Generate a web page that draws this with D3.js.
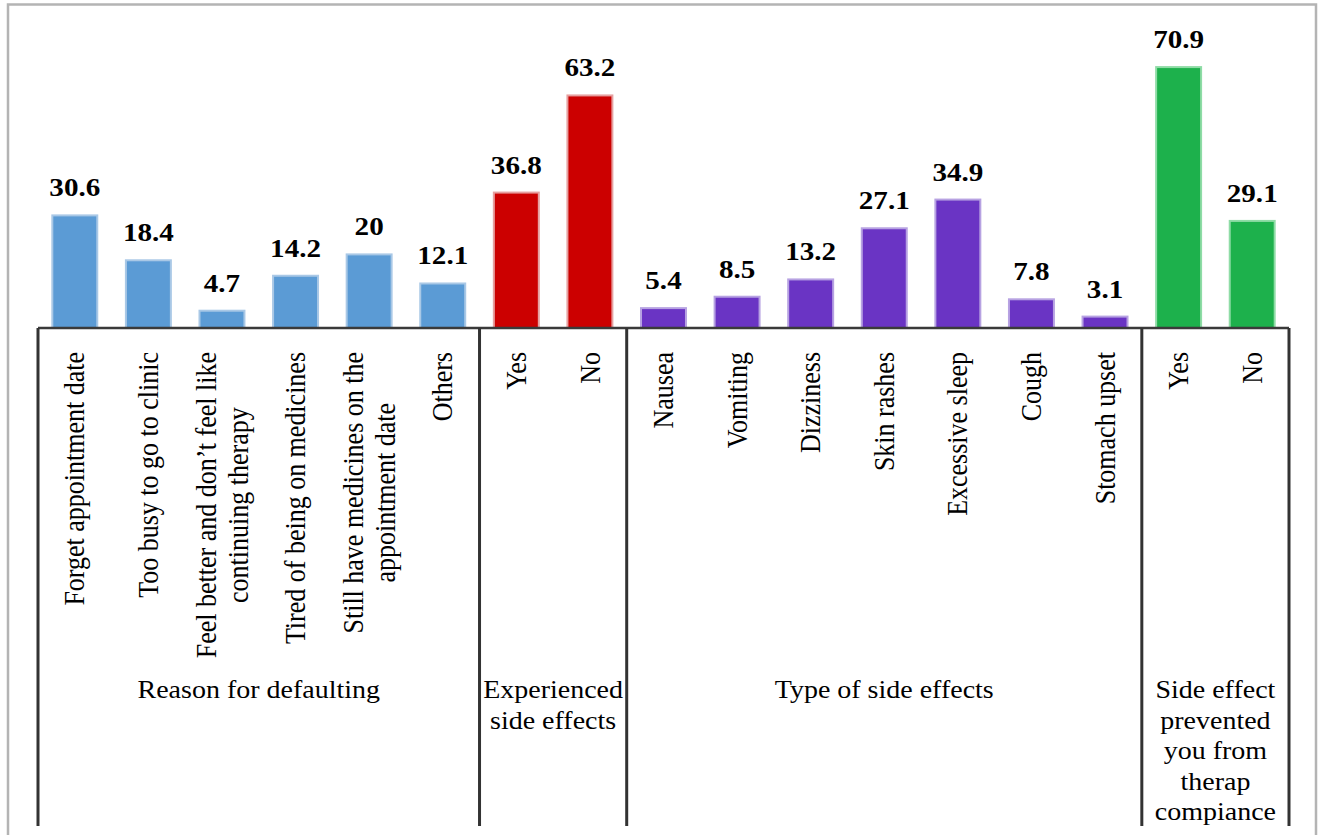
<!DOCTYPE html>
<html>
<head>
<meta charset="utf-8">
<script src="https://cdn.jsdelivr.net/npm/d3@7/dist/d3.min.js"></script>
<style>
  html, body { margin: 0; padding: 0; background: #fff; }
  svg { display: block; }
  text { font-family: "Liberation Serif", "Times New Roman", serif; fill: #000; }
</style>
</head>
<body>
<svg id="chart" width="1322" height="835" font-family="'Liberation Serif', 'Times New Roman', serif"></svg>
<script>
// ---------------- data ----------------
const groups = [
  ["Reason for defaulting"],
  ["Experienced", "side effects"],
  ["Type of side effects"],
  ["Side effect", "prevented", "you from", "therap", "compiance"]
];
const groupSizes = [6, 2, 7, 2];
const groupColors = ["#5b9bd5", "#cc0000", "#6a34c4", "#1db14c"];
const groupStrokes = ["#a9c8e6", "#e6a0a0", "#b7a2e2", "#8fdca6"];

const categories = [
  ["Forget appointment date"],
  ["Too busy to go to clinic"],
  ["Feel better and don\u2019t feel like", "continuing therapy"],
  ["Tired of being on medicines"],
  ["Still have medicines on the", "appointment date"],
  ["Others"],
  ["Yes"],
  ["No"],
  ["Nausea"],
  ["Vomiting"],
  ["Dizziness"],
  ["Skin rashes"],
  ["Excessive sleep"],
  ["Cough"],
  ["Stomach upset"],
  ["Yes"],
  ["No"]
];
const values = [30.6, 18.4, 4.7, 14.2, 20, 12.1, 36.8, 63.2, 5.4, 8.5, 13.2, 27.1, 34.9, 7.8, 3.1, 70.9, 29.1];
const valueLabels = ["30.6", "18.4", "4.7", "14.2", "20", "12.1", "36.8", "63.2", "5.4", "8.5", "13.2", "27.1", "34.9", "7.8", "3.1", "70.9", "29.1"];

// ---------------- layout ----------------
const svg = d3.select("#chart");
const SX = 1.12;               // horizontal stretch of the original picture
const left = 38, right = 1289, base = 328, bottom = 826;
const fontSize = 25, catFont = 26, valueFont = 26;

const groupOf = [];
groupSizes.forEach((n, g) => { for (let i = 0; i < n; i++) groupOf.push(g); });

const pi = 0.389;
const x = d3.scaleBand()
  .domain(d3.range(categories.length))
  .range([left, right])
  .paddingInner(pi)
  .paddingOuter(pi / 2);
const y = d3.scaleLinear().domain([0, 80]).range([base, base - 80 * 3.68]);
const step = x.step();
const cellLeft = i => x(i) - step * pi / 2;

// outer frame (light gray)
svg.append("path")
  .attr("d", `M8,835 L8,4.5 L1316,4.5 L1316,835`)
  .attr("stroke", "#b4b4b4").attr("stroke-width", 2.5).attr("fill", "none");

// bars
svg.append("g").selectAll("rect")
  .data(values)
  .join("rect")
  .attr("x", (d, i) => x(i))
  .attr("width", x.bandwidth())
  .attr("y", d => y(d))
  .attr("height", d => y(0) - y(d))
  .attr("fill", (d, i) => groupColors[groupOf[i]])
  .attr("stroke", (d, i) => groupStrokes[groupOf[i]])
  .attr("stroke-width", 2);

// value labels
svg.append("g").selectAll("text")
  .data(values)
  .join("text")
  .attr("transform", (d, i) => `translate(${x(i) + x.bandwidth() / 2},${y(d) - 19}) scale(${SX},1)`)
  .attr("text-anchor", "middle")
  .attr("font-weight", "bold")
  .attr("font-size", valueFont)
  .text((d, i) => valueLabels[i]);

// axis line
svg.append("line")
  .attr("x1", left).attr("x2", right)
  .attr("y1", base).attr("y2", base)
  .attr("stroke", "#3a3a3a").attr("stroke-width", 2.5);

// group separators
const sepIdx = [0];
groupSizes.reduce((acc, n) => { sepIdx.push(acc + n); return acc + n; }, 0);
svg.append("g").selectAll("line")
  .data(sepIdx)
  .join("line")
  .attr("x1", d => d < categories.length ? cellLeft(d) : right)
  .attr("x2", d => d < categories.length ? cellLeft(d) : right)
  .attr("y1", base).attr("y2", bottom)
  .attr("stroke", "#333").attr("stroke-width", 3);

// category labels (rotated)
const labelTop = 352;
const lh = catFont * 1.1;
const catG = svg.append("g").attr("font-size", catFont);
categories.forEach((lines, i) => {
  const cx = x(i) + x.bandwidth() / 2;
  const g = catG.append("g")
    .attr("transform", `translate(${cx},${labelTop}) scale(${SX},1) rotate(-90)`);
  const texts = lines.map((ln, k) => g.append("text")
    .attr("y", (k - (lines.length - 1) / 2) * lh)
    .attr("dy", "0.33em")
    .text(ln));
  const maxLen = d3.max(texts, t => t.node().getComputedTextLength());
  texts.forEach(t => t.attr("x", -maxLen / 2).attr("text-anchor", "middle"));
});

// group labels
const grpG = svg.append("g").attr("font-size", fontSize);
groups.forEach((lines, g) => {
  const start = sepIdx[g];
  const end = sepIdx[g + 1];
  const x0 = cellLeft(start);
  const x1 = end < categories.length ? cellLeft(end) : right;
  const cx = (x0 + x1) / 2;
  lines.forEach((ln, k) => {
    grpG.append("text")
      .attr("transform", `translate(${cx},${698 + k * 30.6}) scale(${SX},1)`)
      .attr("text-anchor", "middle")
      .text(ln);
  });
});
</script>
</body>
</html>
